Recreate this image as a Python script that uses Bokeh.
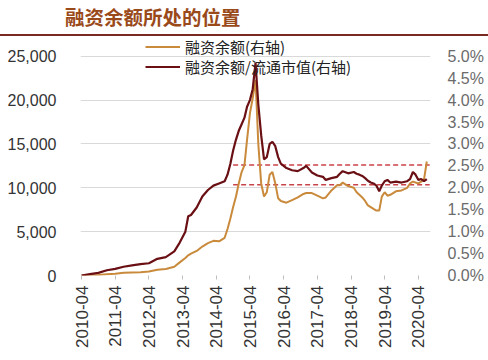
import math
import pandas as pd
from bokeh.plotting import figure
from bokeh.layouts import column
from bokeh.models import (Range1d, LinearAxis, FixedTicker, DatetimeTickFormatter,
                          NumeralTickFormatter, PrintfTickFormatter, Legend, LegendItem,
                          ColumnDataSource, Div)
from bokeh.embed import file_html
from bokeh.resources import INLINE

title_text = "融资余额所处的位置"
legend_balance = "融资余额(右轴)"
legend_ratio = "融资余额/流通市值(右轴)"

dates = ["2010-04", "2010-07", "2010-10", "2011-01", "2011-04", "2011-07", "2011-10",
         "2012-01", "2012-04", "2012-07", "2012-10", "2013-01", "2013-03", "2013-05",
         "2013-06", "2013-07", "2013-09", "2013-11", "2014-01", "2014-03", "2014-05",
         "2014-07", "2014-08", "2014-09", "2014-10", "2014-11", "2014-12", "2015-01",
         "2015-02", "2015-03", "2015-04", "2015-05", "2015-06", "2015-07", "2015-08",
         "2015-09", "2015-10", "2015-11", "2015-12", "2016-01", "2016-02", "2016-03",
         "2016-05", "2016-07", "2016-09", "2016-11", "2016-12", "2017-02", "2017-04",
         "2017-06", "2017-07", "2017-09", "2017-11", "2017-12", "2018-01", "2018-03",
         "2018-05", "2018-06", "2018-07", "2018-08", "2018-09", "2018-10", "2018-11",
         "2018-12", "2019-01", "2019-02", "2019-03", "2019-04", "2019-05", "2019-06",
         "2019-08", "2019-10", "2019-12", "2020-01", "2020-02", "2020-03", "2020-04",
         "2020-05", "2020-06", "2020-07"]

balance = [0, 30, 60, 130, 200, 300, 350,
           380, 450, 650, 750, 1000, 1500, 2000,
           2300, 2500, 2800, 3300, 3700, 3950, 3900,
           4300, 5300, 6500, 7800, 9000, 10500, 11800,
           12600, 15500, 18500, 20200, 22300, 15000, 10500,
           9000, 9500, 11500, 11800, 10500, 8800, 8500,
           8300, 8600, 8900, 9300, 9400, 9400, 9100,
           8800, 8900, 9700, 10300, 10300, 10600, 10200,
           10000, 9500, 9200, 8900, 8500, 8000, 7800,
           7600, 7400, 7400, 9000, 9500, 9100, 9200,
           9600, 9700, 10000, 10500, 10700, 10600, 10500,
           10700, 11000, 13000]

ratio = [0.0, 0.03, 0.06, 0.12, 0.15, 0.20, 0.23,
         0.26, 0.28, 0.38, 0.42, 0.55, 0.75, 1.00,
         1.35, 1.38, 1.55, 1.80, 1.95, 2.05, 2.10,
         2.15, 2.30, 2.55, 2.85, 3.10, 3.30, 3.45,
         3.60, 3.85, 4.00, 4.25, 4.85, 3.90, 3.20,
         2.65, 2.70, 3.00, 3.05, 2.95, 2.70, 2.55,
         2.45, 2.40, 2.38, 2.45, 2.50, 2.35, 2.28,
         2.25, 2.18, 2.22, 2.25, 2.32, 2.38, 2.33,
         2.36, 2.32, 2.30, 2.27, 2.22, 2.16, 2.12,
         2.10, 2.05, 1.92, 2.05, 2.15, 2.18, 2.12,
         2.14, 2.12, 2.15, 2.20, 2.36, 2.30, 2.18,
         2.20, 2.15, 2.20]

ref_upper = 2.52
ref_lower = 2.07
ref_start = "2014-10"
ref_end = "2020-08"

tick_labels = ["2010-04", "2011-04", "2012-04", "2013-04", "2014-04", "2015-04",
               "2016-04", "2017-04", "2018-04", "2019-04", "2020-04"]
left_ticks = [0, 5000, 10000, 15000, 20000, 25000]
right_ticks = [0.0, 0.5, 1.0, 1.5, 2.0, 2.5, 3.0, 3.5, 4.0, 4.5, 5.0]

W = 488
HEAD_H, MAIN_H, FOOT_H = 38, 312, 10
FRAME_TOP, FRAME_BOTTOM = 38, 278          # page y of main frame
TOP_TICK_Y = 56                            # page y of 25,000 / 5.0%
scale = (FRAME_BOTTOM - FRAME_TOP) / (FRAME_BOTTOM - TOP_TICK_Y)

# ---------------- header: title + rule ----------------
head = Div(width=W, height=HEAD_H, margin=0, styles={"margin": "0", "padding": "0"},
           text=('<div style="box-sizing:border-box;width:%dpx;height:%dpx;'
                 'border-bottom:2px solid #7b2a22;padding-left:65px;margin:0;'
                 "font-family:'Noto Sans CJK SC';font-weight:bold;font-size:19.5px;"
                 'color:#9a4a1a;line-height:34px;white-space:nowrap;">%s</div>')
                % (W, HEAD_H - 2, title_text))

# ---------------- main chart ----------------
dt = pd.to_datetime(dates)
src = ColumnDataSource(dict(x=dt, bal=balance, ratio=ratio))

p = figure(width=W, height=MAIN_H, x_axis_type="datetime", output_backend="svg",
           toolbar_location=None,
           x_range=Range1d(pd.Timestamp("2010-03-21"), pd.Timestamp("2020-08-10")),
           y_range=Range1d(0, 25000 * scale),
           min_border_left=80, min_border_right=W - 430, min_border_top=0,
           min_border_bottom=HEAD_H + MAIN_H - FRAME_BOTTOM)
p.frame_align = False
p.outline_line_color = None
p.border_fill_alpha = 0
p.background_fill_alpha = 0
p.extra_y_ranges = {"ratio": Range1d(0, 5 * scale)}

ax = p.xaxis[0]
ax.ticker = FixedTicker(ticks=[pd.Timestamp(t).value // 10**6 for t in tick_labels])
ax.formatter = DatetimeTickFormatter(years="%Y-%m", months="%Y-%m", days="%Y-%m",
                                     hours="%Y-%m", minutes="%Y-%m", seconds="%Y-%m",
                                     milliseconds="%Y-%m", microseconds="%Y-%m")
ax.major_label_orientation = math.pi / 2
ax.major_label_text_font = "Liberation Sans"
ax.major_label_text_font_size = "17px"
ax.major_label_text_color = "#333333"
ax.axis_line_color = None
ax.major_tick_line_color = "#bfbfbf"
ax.major_tick_out = 4
ax.major_tick_in = 0
ax.minor_tick_line_color = None
ax.major_label_standoff = 6

ay = p.yaxis[0]
ay.ticker = FixedTicker(ticks=left_ticks)
ay.formatter = NumeralTickFormatter(format="0,0")
ay.major_label_text_font = "Liberation Sans"
ay.major_label_text_font_size = "16px"
ay.major_label_text_color = "#333333"
ay.axis_line_color = None
ay.major_tick_line_color = None
ay.minor_tick_line_color = None
ay.major_label_standoff = 18

ry = LinearAxis(y_range_name="ratio", ticker=FixedTicker(ticks=right_ticks),
                formatter=PrintfTickFormatter(format="%.1f%%"))
ry.major_label_text_font = "Liberation Sans"
ry.major_label_text_font_size = "16px"
ry.major_label_text_color = "#6b6b6b"
ry.axis_line_color = None
ry.major_tick_line_color = None
ry.minor_tick_line_color = None
ry.major_label_standoff = 11
p.add_layout(ry, "right")

p.xgrid.grid_line_color = None
p.ygrid.ticker = FixedTicker(ticks=left_ticks)
p.ygrid.grid_line_color = "#d9d9d9"
p.ygrid.grid_line_width = 1

ref_x = [pd.Timestamp(ref_start), pd.Timestamp(ref_end)]
p.line(ref_x, [ref_upper, ref_upper], y_range_name="ratio", line_color="#c9434a",
       line_width=1.3, line_dash="5 3")
p.line(ref_x, [ref_lower, ref_lower], y_range_name="ratio", line_color="#c9434a",
       line_width=1.3, line_dash="5 3")

r_bal = p.line("x", "bal", source=src, line_color="#c98a3c", line_width=2)
r_rat = p.line("x", "ratio", source=src, y_range_name="ratio", line_color="#6a0f14",
               line_width=2.2)


def make_legend(label, renderer, y):
    lg = Legend(items=[LegendItem(label=label, renderers=[renderer])],
                location=(65, y), orientation="vertical")
    lg.padding = 0
    lg.margin = 0
    lg.spacing = 0
    lg.glyph_width = 35
    lg.glyph_height = 17
    lg.label_height = 17
    lg.label_standoff = 5
    lg.label_text_font = "Noto Sans CJK SC"
    lg.label_text_font_size = "15px"
    lg.label_text_color = "#222222"
    lg.background_fill_alpha = 0
    lg.border_line_alpha = 0
    return lg


p.add_layout(make_legend(legend_balance, r_bal, 218), "center")
p.add_layout(make_legend(legend_ratio, r_rat, 198), "center")

# ---------------- footer rule ----------------
foot = Div(width=W, height=FOOT_H, margin=0, styles={"margin": "0", "padding": "0"},
           text=('<div style="box-sizing:border-box;margin:3px 0 0 8px;width:%dpx;'
                 'height:2px;background:#a8665e;"></div>') % (W - 16))

layout = column(head, p, foot, spacing=0)
open("out.html", "w").write(file_html(layout, INLINE))
